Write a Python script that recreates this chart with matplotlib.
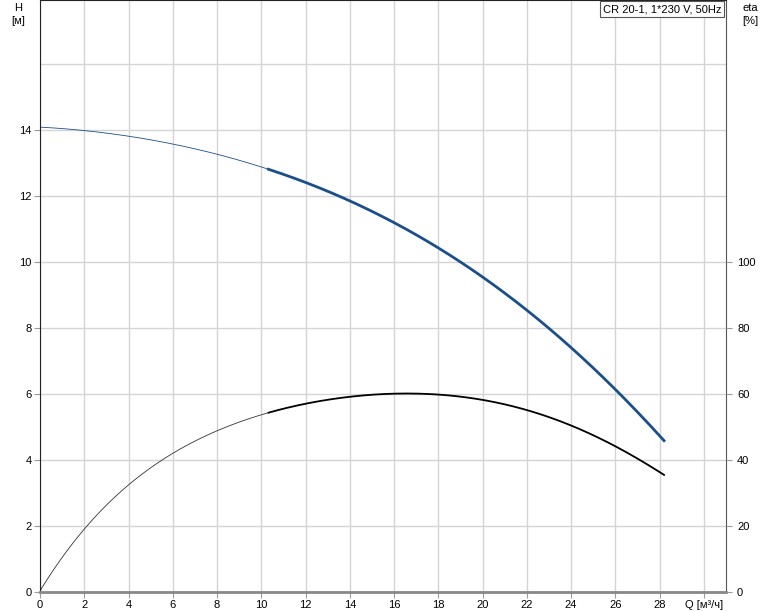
import matplotlib.pyplot as plt
import numpy as np

plt.rcParams['font.family'] = ['Liberation Sans', 'DejaVu Sans']

# flow [m3/h]
q_h = [0, 2, 4, 6, 8, 10, 10.3, 12, 14, 16, 18, 20, 22, 24, 26, 28.2]
head = [14.1, 13.98, 13.82, 13.6, 13.27, 12.88, 12.82, 12.4, 11.9, 11.2, 10.4, 9.55, 8.55, 7.45, 6.1, 4.6]

q_e = [0, 1, 2, 3, 4, 6, 8, 10, 10.3, 12, 14, 16, 18, 20, 22, 24, 26, 28.2]
eta = [0, 10.5, 19.7, 26.5, 32.4, 41.5, 48.5, 53.8, 54.5, 57.3, 59.4, 60.3, 59.8, 57.9, 54.9, 50.6, 44.6, 35.3]

split = 10.3

fig = plt.figure(figsize=(7.74, 6.11), dpi=100)
ax = fig.add_axes([40/774, 19/611, 686/774, 592/611])

def smooth(x, y):
    xs = np.linspace(x[0], x[-1], 400)
    p = np.polyfit(x, y, 5)
    return xs, np.polyval(p, xs)

xh, yh = smooth(q_h, head)
xe, ye = smooth(q_e, eta)
ye = ye / 10.0
ye[0] = 0

blue = '#1b4f8c'
m = xh <= split
ax.plot(xh[m], yh[m], color=blue, lw=0.6)
ax.plot(xh[xh >= split - 0.05], yh[xh >= split - 0.05], color=blue, lw=2)
m = xe <= split
ax.plot(xe[m], ye[m], color='#333333', lw=0.6)
ax.plot(xe[xe >= split - 0.05], ye[xe >= split - 0.05], color='black', lw=1.3)

ax.set_xlim(0, 31)
ax.set_ylim(0, 17.95)
ax.set_xticks(range(0, 31, 2))
ax.set_xticklabels([str(v) for v in range(0, 30, 2)] + ['Q [м³/ч]'])
ax.set_yticks(range(0, 15, 2))
ax.set_yticks([16], minor=True)
ax.tick_params(axis='y', which='minor', length=0)
ax.grid(True, which='both', color='#d4d4d4', lw=1)
ax.set_axisbelow(True)
ax.tick_params(labelsize=8, length=4, color='#999999', pad=2)

for s in ['left', 'top']:
    ax.spines[s].set_color('#222222')
ax.spines['right'].set_color('#555555')
ax.spines['bottom'].set_color('#888888')
ax.spines['bottom'].set_linewidth(2)

ax2 = ax.twinx()
ax2.set_ylim(0, 179.5)
ax2.set_yticks(range(0, 101, 20))
ax2.tick_params(labelsize=8, length=4, color='#999999', pad=4)
for s in ax2.spines.values():
    s.set_visible(False)

fig.text(18/774, 1 - 8/611, 'H', ha='center', va='center', fontsize=8)
fig.text(18/774, 1 - 21/611, '[м]', ha='center', va='center', fontsize=8)
fig.text(750/774, 1 - 8/611, 'eta', ha='center', va='center', fontsize=8)
fig.text(750/774, 1 - 21/611, '[%]', ha='center', va='center', fontsize=8)

ax.text(0.993, 0.993, 'CR 20-1, 1*230 V, 50Hz', transform=ax.transAxes, ha='right', va='top',
        fontsize=8, bbox=dict(facecolor='white', edgecolor='#555555', lw=0.8, pad=2))

fig.savefig('out.png', dpi=100)
